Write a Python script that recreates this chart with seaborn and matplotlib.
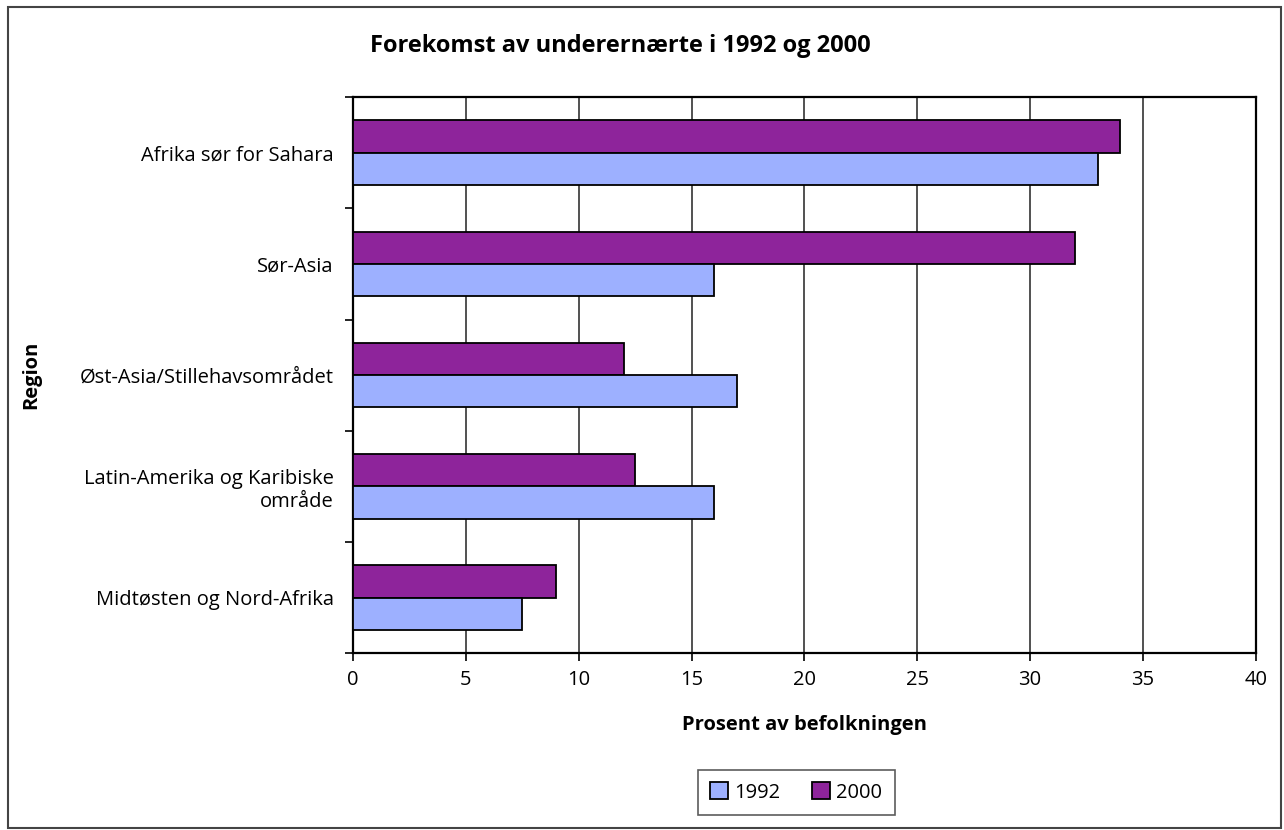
import matplotlib
matplotlib.use("Agg")
import matplotlib.pyplot as plt
import seaborn as sns
import pandas as pd
from matplotlib.patches import Patch, Rectangle

# --- Data ---
regions = ["Afrika sør for Sahara", "Sør-Asia", "Øst-Asia/Stillehavsområdet",
           "Latin-Amerika og Karibiske\nområde", "Midtøsten og Nord-Afrika"]
values_1992 = [33, 16, 17, 16, 7.5]
values_2000 = [34, 32, 12, 12.5, 9]
years = ["1992", "2000"]
x_ticks = [0, 5, 10, 15, 20, 25, 30, 35, 40]

COLORS = {"1992": "#9DB0FF", "2000": "#8E249B"}
FS = 14.5

df = pd.DataFrame({
    "Region": regions * 2,
    "Prosent": values_1992 + values_2000,
    "År": ["1992"] * len(regions) + ["2000"] * len(regions),
})

sns.set_style("white")
plt.rcParams["font.family"] = ["Open Sans", "DejaVu Sans"]
plt.rcParams.update({"text.color": "black", "axes.labelcolor": "black",
                     "xtick.color": "black", "ytick.color": "black"})

fig = plt.figure(figsize=(12.84, 8.3), dpi=100)
ax = fig.add_axes([0.275, 0.213, 0.703, 0.67])

sns.barplot(data=df, y="Region", x="Prosent", hue="År", hue_order=["2000", "1992"],
            order=regions, palette=COLORS, saturation=1, orient="h", width=0.58,
            edgecolor="black", linewidth=1.3, legend=False, ax=ax, zorder=3)

ax.set_xlim(0, 40)
ax.set_ylim(len(regions) - 0.5, -0.5)
ax.set_xticks(x_ticks)
ax.set_xticklabels([str(t) for t in x_ticks], fontsize=FS)
ax.xaxis.grid(True, color="#333333", linewidth=1.2, zorder=0)
ax.yaxis.grid(False)

# category labels at centres, tick marks at boundaries
ax.set_yticks(range(len(regions)))
ax.set_yticklabels(regions, fontsize=FS, multialignment="right")
ax.tick_params(axis="y", length=0, pad=14)
ax.set_yticks([i - 0.5 for i in range(len(regions) + 1)], minor=True)
ax.tick_params(axis="y", which="minor", length=6, width=1.2, color="black", left=True)
ax.tick_params(axis="x", length=6, width=1.2, color="black", bottom=True, pad=6)

for s in ax.spines.values():
    s.set_visible(True)
    s.set_color("black")
    s.set_linewidth(1.6)

ax.set_xlabel("Prosent av befolkningen", fontsize=FS, fontweight="bold", labelpad=18)
ax.set_ylabel("Region", fontsize=FS, fontweight="bold", labelpad=0)
ax.yaxis.set_label_coords(-0.345, 0.5)

fig.text(0.288, 0.945, "Forekomst av underernærte i 1992 og 2000", fontsize=17,
         fontweight="bold", va="center", ha="left")

handles = [Patch(facecolor=COLORS[y], edgecolor="black", linewidth=1.3) for y in years]
leg = fig.legend(handles, years, loc="center", bbox_to_anchor=(0.62, 0.045), ncol=2,
                 fontsize=FS, frameon=True, fancybox=False, edgecolor="#333333",
                 handlelength=0.9, handleheight=0.9, handletextpad=0.3,
                 columnspacing=1.6, borderpad=0.6)
leg.get_frame().set_linewidth(1.2)

# outer chart border
fig.patches.append(Rectangle((0.006, 0.002), 0.992, 0.99, transform=fig.transFigure,
                             fill=False, edgecolor="#444444", linewidth=1.5))

plt.savefig("out.png", dpi=100)
